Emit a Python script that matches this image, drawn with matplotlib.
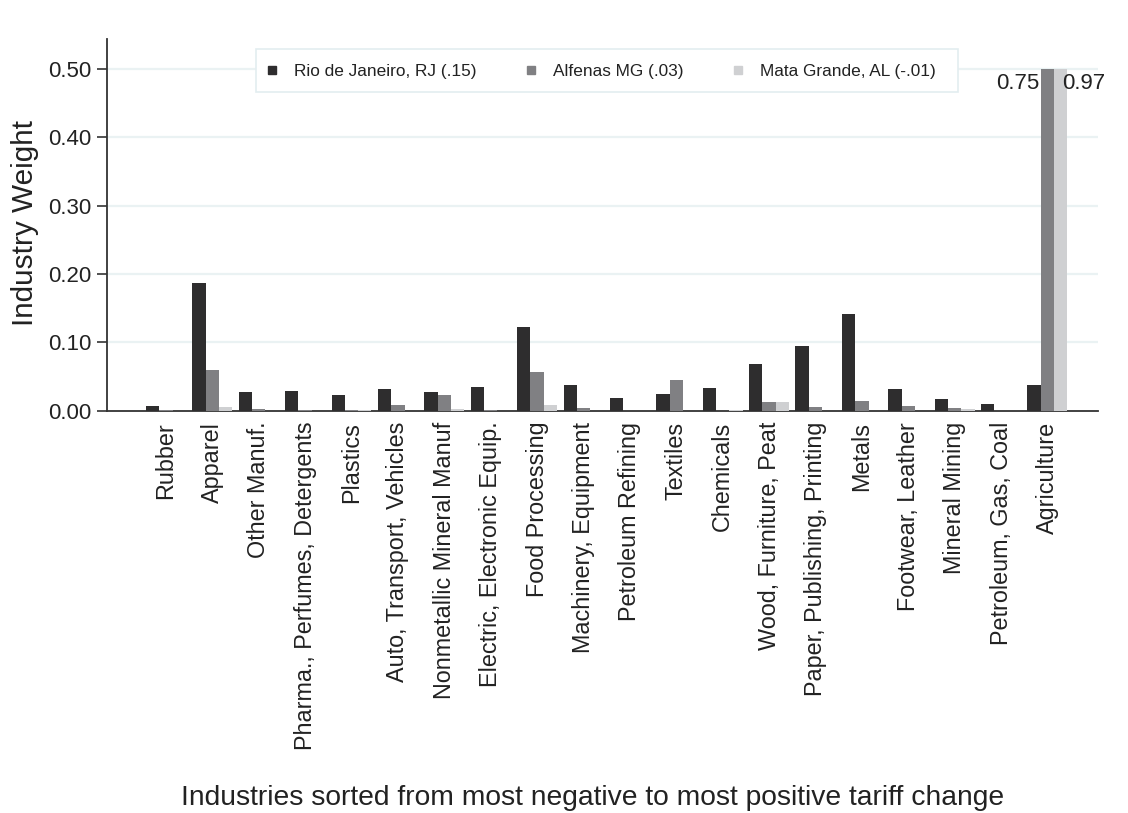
import numpy as np
import matplotlib
matplotlib.use("Agg")
import matplotlib.pyplot as plt
from matplotlib.lines import Line2D
from matplotlib.patches import Rectangle

plt.rcParams['font.family'] = ['Liberation Sans', 'DejaVu Sans']

industries = ["Rubber", "Apparel", "Other Manuf.", "Pharma., Perfumes, Detergents",
              "Plastics", "Auto, Transport, Vehicles", "Nonmetallic Mineral Manuf",
              "Electric, Electronic Equip.", "Food Processing", "Machinery, Equipment",
              "Petroleum Refining", "Textiles", "Chemicals", "Wood, Furniture, Peat",
              "Paper, Publishing, Printing", "Metals", "Footwear, Leather",
              "Mineral Mining", "Petroleum, Gas, Coal", "Agriculture"]

rio = [0.007, 0.187, 0.028, 0.029, 0.023, 0.032, 0.028, 0.034, 0.123, 0.038,
       0.019, 0.0245, 0.033, 0.068, 0.094, 0.142, 0.032, 0.017, 0.010, 0.0375]
alfenas = [0.0005, 0.060, 0.003, 0.001, 0.0005, 0.0085, 0.023, 0.001, 0.056, 0.0045,
           0.0, 0.045, 0.0, 0.013, 0.005, 0.014, 0.007, 0.0045, 0.0, 0.75]
mata = [0.0, 0.006, 0.0, 0.0, 0.001, 0.0, 0.002, 0.0, 0.0085, 0.0,
        0.0, 0.0, 0.001, 0.012, 0.0, 0.0, 0.0, 0.002, 0.0, 0.97]

series_names = ["Rio de Janeiro, RJ (.15)", "Alfenas MG (.03)", "Mata Grande, AL (-.01)"]
colors = ["#2e2d2e", "#808083", "#cfd0d2"]
cap = 0.50
yticks = [0.0, 0.1, 0.2, 0.3, 0.4, 0.5]

W, H = 1128, 813
fig = plt.figure(figsize=(W / 100, H / 100), dpi=100)
ax = fig.add_axes([107 / W, 1 - 410.7 / H, (1098 - 107) / W, (410.7 - 39.3) / H])

x = np.arange(len(industries))
bw = 0.287
for k, (vals, col) in enumerate(zip([rio, alfenas, mata], colors)):
    v = np.minimum(np.array(vals), cap)
    ax.bar(x + (k - 1) * bw, v, width=bw, color=col, edgecolor='none', zorder=3)

# value labels for capped bars
for k, vals in enumerate([rio, alfenas, mata]):
    for i, val in enumerate(vals):
        if val > cap:
            if k == 1:
                ax.annotate(f"{val:.2f}", xy=(x[i] + (k - 1) * bw, cap), xytext=(-6, -3),
                            textcoords='offset points', ha='right', va='top', fontsize=16,
                            color='#222222', zorder=4)
            else:
                ax.annotate(f"{val:.2f}", xy=(x[i] + (k - 1) * bw, cap), xytext=(1, -3),
                            textcoords='offset points', ha='left', va='top', fontsize=16,
                            color='#222222', zorder=4)

ax.set_xlim(-1.27, 20.09)
ax.set_ylim(0, 0.543)
ax.set_yticks(yticks)
ax.set_yticklabels([f"{t:.2f}" for t in yticks], fontsize=16, color='#222222')
for t in yticks[1:]:
    ax.axhline(t, color='#eaf2f3', lw=1.6, zorder=1)

ax.set_xticks(x)
ax.set_xticklabels(industries, rotation=90, fontsize=16.8, color='#222222', va='top')
ax.tick_params(axis='x', length=0, pad=8)
ax.tick_params(axis='y', length=7, width=1.2, color='#333333', pad=4)

for s in ['top', 'right']:
    ax.spines[s].set_visible(False)
for s in ['left', 'bottom']:
    ax.spines[s].set_color('#333333')
    ax.spines[s].set_linewidth(1.3)

fig.text(25 / W, 1 - 223.5 / H, "Industry Weight", rotation=90, ha='center', va='center',
         fontsize=21.4, color='#222222')
fig.text(593 / W, 1 - 798 / H, "Industries sorted from most negative to most positive tariff change",
         ha='center', va='center', fontsize=20.35, color='#222222')

# legend frame drawn as a figure rectangle
frame = Rectangle((256 / W, 1 - 92 / H), (958 - 256) / W, (92 - 49) / H,
                  transform=fig.transFigure, facecolor='white', edgecolor='#e3edf0',
                  linewidth=1.2, zorder=4)
ax.add_patch(frame)
frame.set_clip_on(False)

handles = [Line2D([0], [0], marker='s', linestyle='none', markersize=5.8,
                  markerfacecolor=c, markeredgecolor=c) for c in colors]
leg = ax.legend(handles, series_names, ncol=3, loc='upper left',
                bbox_to_anchor=(256 / W, 1 - 53 / H), bbox_transform=fig.transFigure,
                fontsize=12.45, frameon=False, borderpad=0.65,
                handlelength=0.55, handletextpad=1.0, columnspacing=2.875,
                borderaxespad=0)
leg.set_zorder(5)
for t in leg.get_texts():
    t.set_color('#222222')

fig.savefig("out.png", dpi=100)
